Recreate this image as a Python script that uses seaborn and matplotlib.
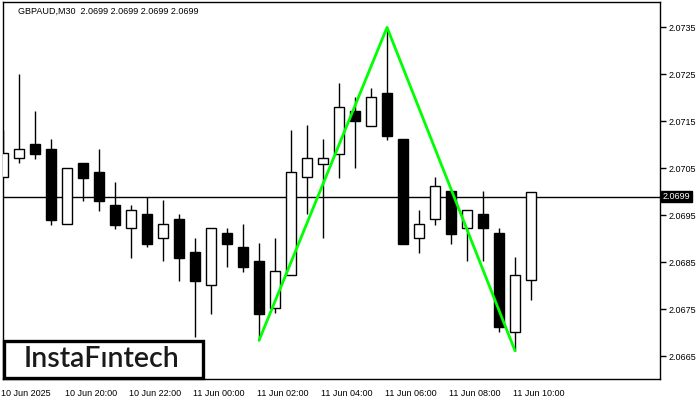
import matplotlib
matplotlib.use("Agg")
import matplotlib.pyplot as plt
import matplotlib.transforms as mtransforms
from matplotlib.patches import Rectangle
import seaborn as sns
import pandas as pd

# ---- data (GBPAUD M30) ----
opens  = [2.07031, 2.07072, 2.07101, 2.07091, 2.06931, 2.07061, 2.07042, 2.06972, 2.06923,
          2.06953, 2.06902, 2.06943, 2.06872, 2.06802, 2.06912, 2.06883, 2.06853, 2.06753,
          2.06823, 2.07031, 2.07060, 2.07081, 2.07172, 2.07141, 2.07211, 2.07113, 2.06902,
          2.06942, 2.07002, 2.06923, 2.06953, 2.06912, 2.06702, 2.06812]
highs  = [2.07132, 2.07251, 2.07172, 2.07113, 2.07050, 2.07061, 2.07091, 2.07021, 2.06972,
          2.06990, 2.06983, 2.06953, 2.06902, 2.06923, 2.06923, 2.06931, 2.06891, 2.06902,
          2.07132, 2.07143, 2.07113, 2.07232, 2.07202, 2.07221, 2.07350, 2.07113, 2.06962,
          2.07032, 2.07002, 2.06962, 2.07002, 2.06923, 2.06862, 2.07000]
lows   = [2.07031, 2.07061, 2.07071, 2.06930, 2.06931, 2.06981, 2.06960, 2.06922, 2.06860,
          2.06882, 2.06852, 2.06811, 2.06692, 2.06741, 2.06841, 2.06830, 2.06684, 2.06742,
          2.06823, 2.06953, 2.06901, 2.07030, 2.07050, 2.07141, 2.07111, 2.06890, 2.06871,
          2.06930, 2.06890, 2.06852, 2.06852, 2.06701, 2.06662, 2.06771]
closes = [2.07082, 2.07091, 2.07081, 2.06941, 2.07050, 2.07030, 2.06981, 2.06930, 2.06961,
          2.06890, 2.06931, 2.06860, 2.06811, 2.06923, 2.06890, 2.06841, 2.06741, 2.06831,
          2.07042, 2.07072, 2.07072, 2.07180, 2.07150, 2.07202, 2.07120, 2.06890, 2.06931,
          2.07012, 2.06911, 2.06962, 2.06923, 2.06712, 2.06823, 2.07000]

tick_positions = [0, 4, 8, 12, 16, 20, 24, 28, 32]
tick_labels = ["10 Jun 2025", "10 Jun 20:00", "10 Jun 22:00", "11 Jun 00:00", "11 Jun 02:00",
               "11 Jun 04:00", "11 Jun 06:00", "11 Jun 08:00", "11 Jun 10:00"]
price_ticks = [2.0665, 2.0675, 2.0685, 2.0695, 2.0705, 2.0715, 2.0725, 2.0735]
price_tick_labels = ["2.0665", "2.0675", "2.0685", "2.0695", "2.0705", "2.0715", "2.0725", "2.0735"]

pattern_idx = [16, 24, 32]
pattern_price = [2.06684, 2.07350, 2.06662]

current_price = 2.0699
header = "GBPAUD,M30  2.0699 2.0699 2.0699 2.0699"
logo_text = "InstaF\u0131ntech"

# ---- figure ----
sns.set_style("white")
plt.rcParams["font.family"] = ["Liberation Sans", "DejaVu Sans"]

W, H = 700, 400
fig = plt.figure(figsize=(7, 4), dpi=100)
fig.patch.set_facecolor("white")
ax = fig.add_axes([2.5 / W, 21 / H, (660 - 2.5) / W, (379 - 2) / H])
ax.set_facecolor("white")

df = pd.DataFrame({"i": range(len(opens)), "o": opens, "h": highs, "l": lows, "c": closes})
df["bottom"] = df[["o", "c"]].min(axis=1)
df["height"] = (df["c"] - df["o"]).abs()
df["up"] = df["c"] >= df["o"]

# wicks
ax.vlines(df["i"], df["l"], df["h"], color="black", linewidth=1.0, zorder=2)
# bodies
ax.bar(df["i"], df["height"], bottom=df["bottom"], width=0.64,
       color=["white" if u else "black" for u in df["up"]],
       edgecolor="black", linewidth=1.0, zorder=3)

# current price line
ax.axhline(current_price, color="black", linewidth=1.0, zorder=1)

# pattern line
pat = pd.DataFrame({"i": pattern_idx, "p": pattern_price})
sns.lineplot(data=pat, x="i", y="p", color="#00ff00", linewidth=2.0, ax=ax, zorder=5)

ax.set_xlim(-0.03, 41.06)
ax.set_ylim(2.06602, 2.07404)
ax.set_xlabel("")
ax.set_ylabel("")

ax.yaxis.tick_right()
ax.set_yticks(price_ticks)
ax.set_yticklabels(price_tick_labels)
ax.set_xticks(tick_positions)
ax.set_xticklabels(tick_labels, ha="left")
ax.tick_params(axis="both", direction="out", length=4, width=1, color="black",
               labelsize=6.5, labelcolor="black", pad=2)
ax.tick_params(axis="x", pad=3)
offset = mtransforms.ScaledTranslation(-2 / 100, 0, fig.dpi_scale_trans)
for lab in ax.get_xticklabels():
    lab.set_horizontalalignment("left")
    lab.set_transform(lab.get_transform() + offset)

for sp in ax.spines.values():
    sp.set_visible(True)
    sp.set_color("black")
    sp.set_linewidth(1.0)

# current price label
ax.text(1.004, current_price, "2.0699", transform=ax.get_yaxis_transform(),
        ha="left", va="center", fontsize=6.5, color="white", zorder=10,
        bbox=dict(boxstyle="square,pad=0.15", facecolor="black", edgecolor="black"),
        clip_on=False)

# header
fig.text(18 / W, 1 - 11 / H, header, fontsize=6.5, color="black", ha="left", va="center")

# logo box
fig.add_artist(Rectangle((3.5 / W, 22.5 / H), 199 / W, 37 / H, transform=fig.transFigure,
                         facecolor="white", edgecolor="black", linewidth=2.4, zorder=20))
fig.text(102 / W, (400 - 359) / H, logo_text, fontsize=20.5, family=["Lato", "DejaVu Sans"],
         fontweight="semibold", color="#1a1a1a", ha="center", va="center", zorder=21)

fig.savefig("out.png", dpi=100, facecolor="white")
